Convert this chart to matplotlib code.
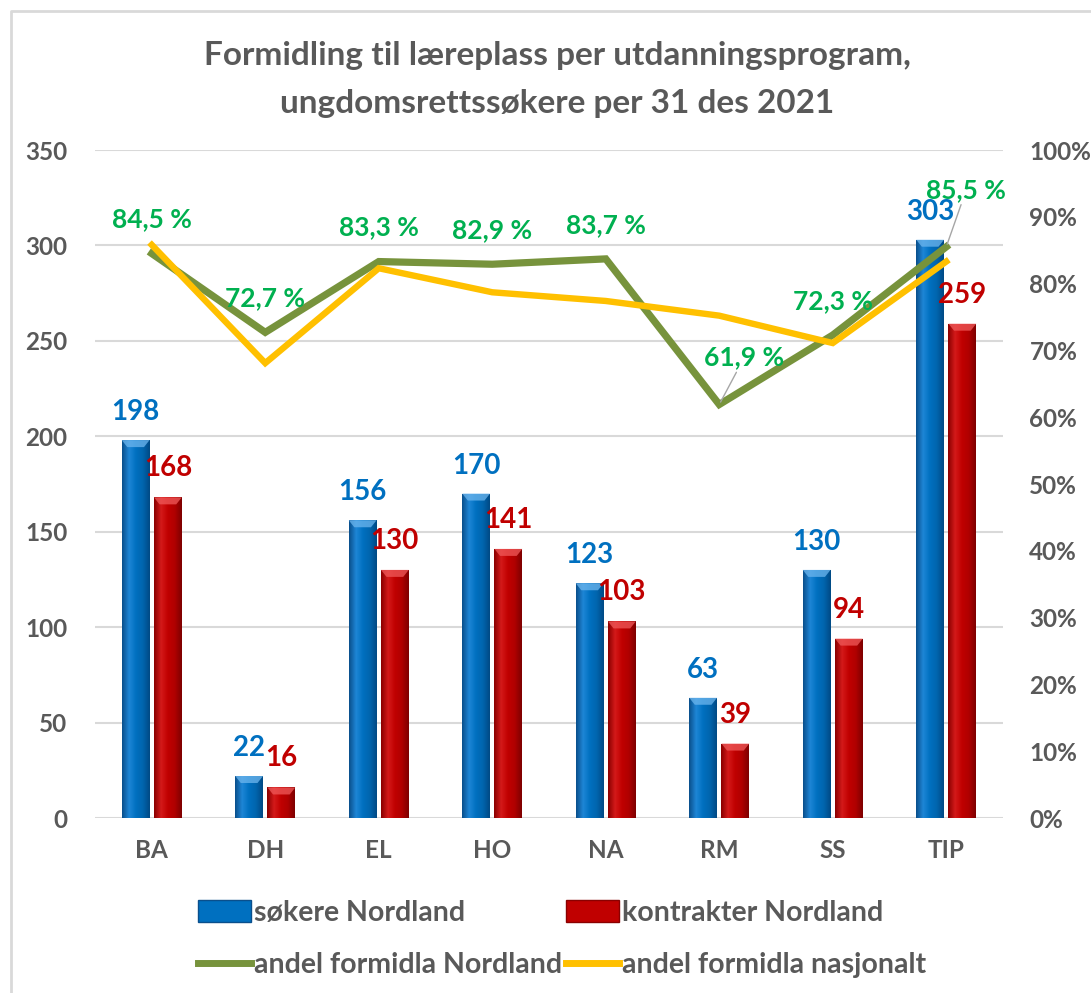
import matplotlib
matplotlib.use("Agg")
import matplotlib.pyplot as plt
import numpy as np
from matplotlib.patches import Patch
from matplotlib.lines import Line2D
from matplotlib.colors import LinearSegmentedColormap

categories = ["BA", "DH", "EL", "HO", "NA", "RM", "SS", "TIP"]
sokere = [198, 22, 156, 170, 123, 63, 130, 303]
kontrakter = [168, 16, 130, 141, 103, 39, 94, 259]
andel_nordland = [84.5, 72.7, 83.3, 82.9, 83.7, 61.9, 72.3, 85.5]
andel_nasjonalt = [85.8, 68.1, 82.3, 78.7, 77.4, 75.2, 71.1, 83.3]

left_ticks = [0, 50, 100, 150, 200, 250, 300, 350]
right_ticks = [0, 10, 20, 30, 40, 50, 60, 70, 80, 90, 100]

FONT = "Lato"
GRAY = "#595959"
BLUE = "#0070C0"
RED = "#C00000"
GREEN_LINE = "#77933C"
YELLOW_LINE = "#FFC000"
GREEN_TXT = "#00B050"

plt.rcParams["font.family"] = [FONT, "DejaVu Sans"]
plt.rcParams["font.weight"] = "bold"

W, H = 1091, 993
fig = plt.figure(figsize=(W / 100, H / 100), dpi=100)
fig.patch.set_facecolor("white")

ax = fig.add_axes([95 / W, 1 - 818 / H, (1003 - 95) / W, (818 - 150) / H])
ax2 = ax.twinx()

x = np.arange(len(categories))
bw = 0.245
off = 0.142

blue_cmap = LinearSegmentedColormap.from_list(
    "b", ["#0A4F8C", "#1E86D6", "#0070C0", "#0065AE", "#004A85"])
red_cmap = LinearSegmentedColormap.from_list(
    "r", ["#8A0000", "#D41A1A", "#C00000", "#B00000", "#7E0000"])

b1 = ax.bar(x - off, sokere, width=bw, color=BLUE, zorder=3, linewidth=0)
b2 = ax.bar(x + off, kontrakter, width=bw, color=RED, zorder=3, linewidth=0)

grad = np.linspace(0, 1, 64).reshape(1, -1)
for bars, cmap, light in ((b1, blue_cmap, "#6DB6EE"), (b2, red_cmap, "#F05A5A")):
    for p in bars:
        x0, y0 = p.get_x(), p.get_y()
        w_, h_ = p.get_width(), p.get_height()
        im = ax.imshow(grad, cmap=cmap, aspect="auto",
                       extent=(x0, x0 + w_, y0, y0 + h_), zorder=3.1)
        im.set_clip_path(p)
        cap = 7 * 350 / 668
        ax.fill([x0, x0 + w_, x0 + w_ * 0.8, x0 + w_ * 0.2],
                [y0 + h_, y0 + h_, y0 + h_ - cap, y0 + h_ - cap],
                color=light, alpha=0.75, zorder=3.2, lw=0)

ax.set_xlim(-0.5, len(categories) - 0.5)
ax.set_ylim(0, 350)
ax.set_yticks(left_ticks)
ax.set_xticks(x)
ax.set_xticklabels(categories)
ax.yaxis.grid(True, color="#D9D9D9", lw=1.5, zorder=0)
ax.set_axisbelow(True)
for s in ax.spines.values():
    s.set_visible(False)
for s in ax2.spines.values():
    s.set_visible(False)
ax.tick_params(axis="both", length=0, labelsize=17.5, labelcolor=GRAY)
ax.tick_params(axis="y", pad=20)
ax.tick_params(axis="x", pad=15)

ax2.plot(x, andel_nordland, color=GREEN_LINE, lw=5.2, zorder=4,
         solid_joinstyle="miter")
ax2.plot(x, andel_nasjonalt, color=YELLOW_LINE, lw=4.6, zorder=5,
         solid_joinstyle="miter")
ax2.set_ylim(0, 100)
ax2.set_yticks(right_ticks)
ax2.set_yticklabels([f"{t}%" for t in right_ticks])
ax2.tick_params(axis="y", length=0, labelsize=17.5, labelcolor=GRAY, pad=19)

for xi, v in zip(x - off, sokere):
    ax2.annotate(str(v), xy=(xi, v), xycoords=ax.transData,
                 xytext=(0, 28), textcoords="offset pixels",
                 ha="center", va="center", color=BLUE, fontsize=20,
                 fontweight="bold", zorder=7)
for xi, v in zip(x + off, kontrakter):
    ax2.annotate(str(v), xy=(xi, v), xycoords=ax.transData,
                 xytext=(0, 29), textcoords="offset pixels",
                 ha="center", va="center", color=RED, fontsize=20,
                 fontweight="bold", zorder=7)

label_offsets = {5: (25, 47), 7: (20, 57)}
for i, v in enumerate(andel_nordland):
    dx, dy = label_offsets.get(i, (0, 34))
    kw = {}
    if i in label_offsets:
        kw["arrowprops"] = dict(arrowstyle="-", color="#A6A6A6", lw=1,
                                shrinkA=0, shrinkB=2)
    ax2.annotate(f"{v:.1f} %".replace(".", ","), xy=(i, v),
                 xytext=(dx, dy), textcoords="offset pixels",
                 ha="center", va="center", color=GREEN_TXT, fontsize=19,
                 fontweight="bold", zorder=8, **kw)

fig.text(0.511, 1 - 55 / H, "Formidling til læreplass per utdanningsprogram,",
         ha="center", va="center", fontsize=24, color=GRAY, fontweight="bold")
fig.text(0.511, 1 - 103 / H, "ungdomsrettssøkere per 31 des 2021",
         ha="center", va="center", fontsize=24, color=GRAY, fontweight="bold")

handles = [
    Patch(facecolor=BLUE, edgecolor="#0A4F8C"),
    Patch(facecolor=RED, edgecolor="#8A0000"),
    Line2D([0], [0], color=GREEN_LINE, lw=5),
    Line2D([0], [0], color=YELLOW_LINE, lw=5),
]
labels = ["søkere Nordland", "kontrakter Nordland",
          "andel formidla Nordland", "andel formidla nasjonalt"]
order = [0, 2, 1, 3]
leg = fig.legend([handles[i] for i in order], [labels[i] for i in order],
                 ncol=2, loc="center", bbox_to_anchor=(562 / W, 1 - 939 / H),
                 frameon=False, fontsize=20.5, handlelength=1.85,
                 handleheight=0.8, handletextpad=0.1, columnspacing=0.15,
                 labelspacing=0.93, labelcolor=GRAY)
for t in leg.get_texts():
    t.set_fontweight("bold")

fig.add_artist(Line2D([11 / W, 11 / W, 1], [0, 1 - 11 / H, 1 - 11 / H],
                      transform=fig.transFigure, color="#D9D9D9", lw=2))

fig.savefig("out.png", dpi=100, facecolor="white")
